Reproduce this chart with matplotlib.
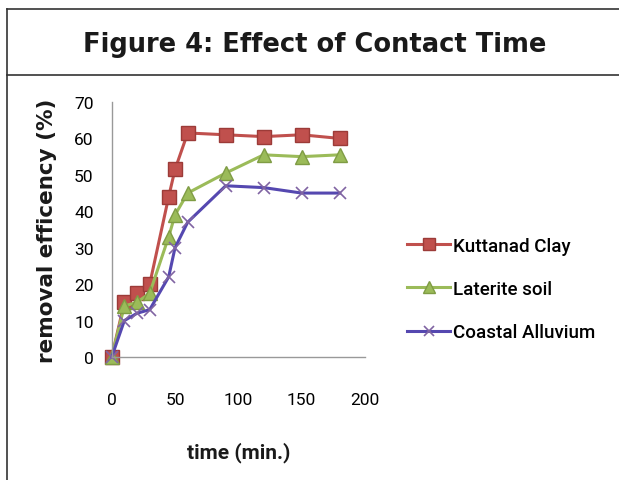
import matplotlib.pyplot as plt
from matplotlib.lines import Line2D

plt.rcParams['font.family'] = ['DejaVu Sans']

# data
time_min = [0, 10, 20, 30, 45, 50, 60, 90, 120, 150, 180]
kuttanad = [0, 15, 17.5, 20, 44, 51.5, 61.5, 61, 60.5, 61, 60]
laterite = [0, 14, 15, 17.5, 33, 39, 45, 50.5, 55.5, 55, 55.5]
coastal = [0, 10, 12, 13, 22, 30, 37, 47, 46.5, 45, 45]

narrow = ['Roboto', 'DejaVu Sans']

fig = plt.figure(figsize=(6.19, 4.81), dpi=100)

# frame lines around title box
fig.add_artist(Line2D([7/619, 7/619], [0, 1 - 10/481], color='#333333', lw=1.2))
fig.add_artist(Line2D([7/619, 1], [1 - 10/481, 1 - 10/481], color='#333333', lw=1.2))
fig.add_artist(Line2D([7/619, 1], [1 - 76/481, 1 - 76/481], color='#333333', lw=1.2))
fig.text(315/619, 1 - 45/481, 'Figure 4: Effect of Contact Time', ha='center', va='center',
         fontsize=18.5, fontweight='bold', color='#1a1a1a')

ax = fig.add_axes([111.7/619, 1 - 358/481, (365 - 111.7)/619, (358 - 103)/481])
ax.plot(time_min, kuttanad, color='#C0504D', lw=2.2, marker='s', ms=10,
        mec='#9c3b38', label='Kuttanad Clay', clip_on=False)
ax.plot(time_min, laterite, color='#9BBB59', lw=2.2, marker='^', ms=10,
        mec='#7f9c44', label='Laterite soil', clip_on=False)
ax.plot(time_min, coastal, color='#5548B0', lw=2.2, marker='x', ms=9, mew=1.2,
        mec='#8064A2', label='Coastal Alluvium', clip_on=False)

ax.set_xlim(0, 200)
ax.set_ylim(0, 70)
ax.set_xticks([0, 50, 100, 150, 200])
ax.set_yticks(range(0, 71, 10))
ax.tick_params(axis='y', length=0, pad=13, labelsize=12.5)
ax.tick_params(axis='x', length=0, pad=25, labelsize=12.5)
for lab in ax.get_xticklabels() + ax.get_yticklabels():
    lab.set_family(narrow)
for s in ['top', 'right']:
    ax.spines[s].set_visible(False)
for s in ['left', 'bottom']:
    ax.spines[s].set_color('#999999')
    ax.spines[s].set_linewidth(1)

ax.set_ylabel('removal efficency (%)', fontsize=15.5, fontweight='bold', labelpad=12,
              color='#1a1a1a')
ax.set_xlabel('time (min.)', fontsize=15, fontweight='bold', family=narrow, labelpad=25,
              color='#1a1a1a')

ax.legend(loc='center left', bbox_to_anchor=(1.166, 0.267), frameon=False,
          borderpad=0, borderaxespad=0,
          prop={'family': narrow, 'size': 13.5, 'weight': 'medium'}, handlelength=2.3,
          handletextpad=0.15, labelspacing=1.35, markerscale=0.8)

fig.savefig('out.png', dpi=100)
